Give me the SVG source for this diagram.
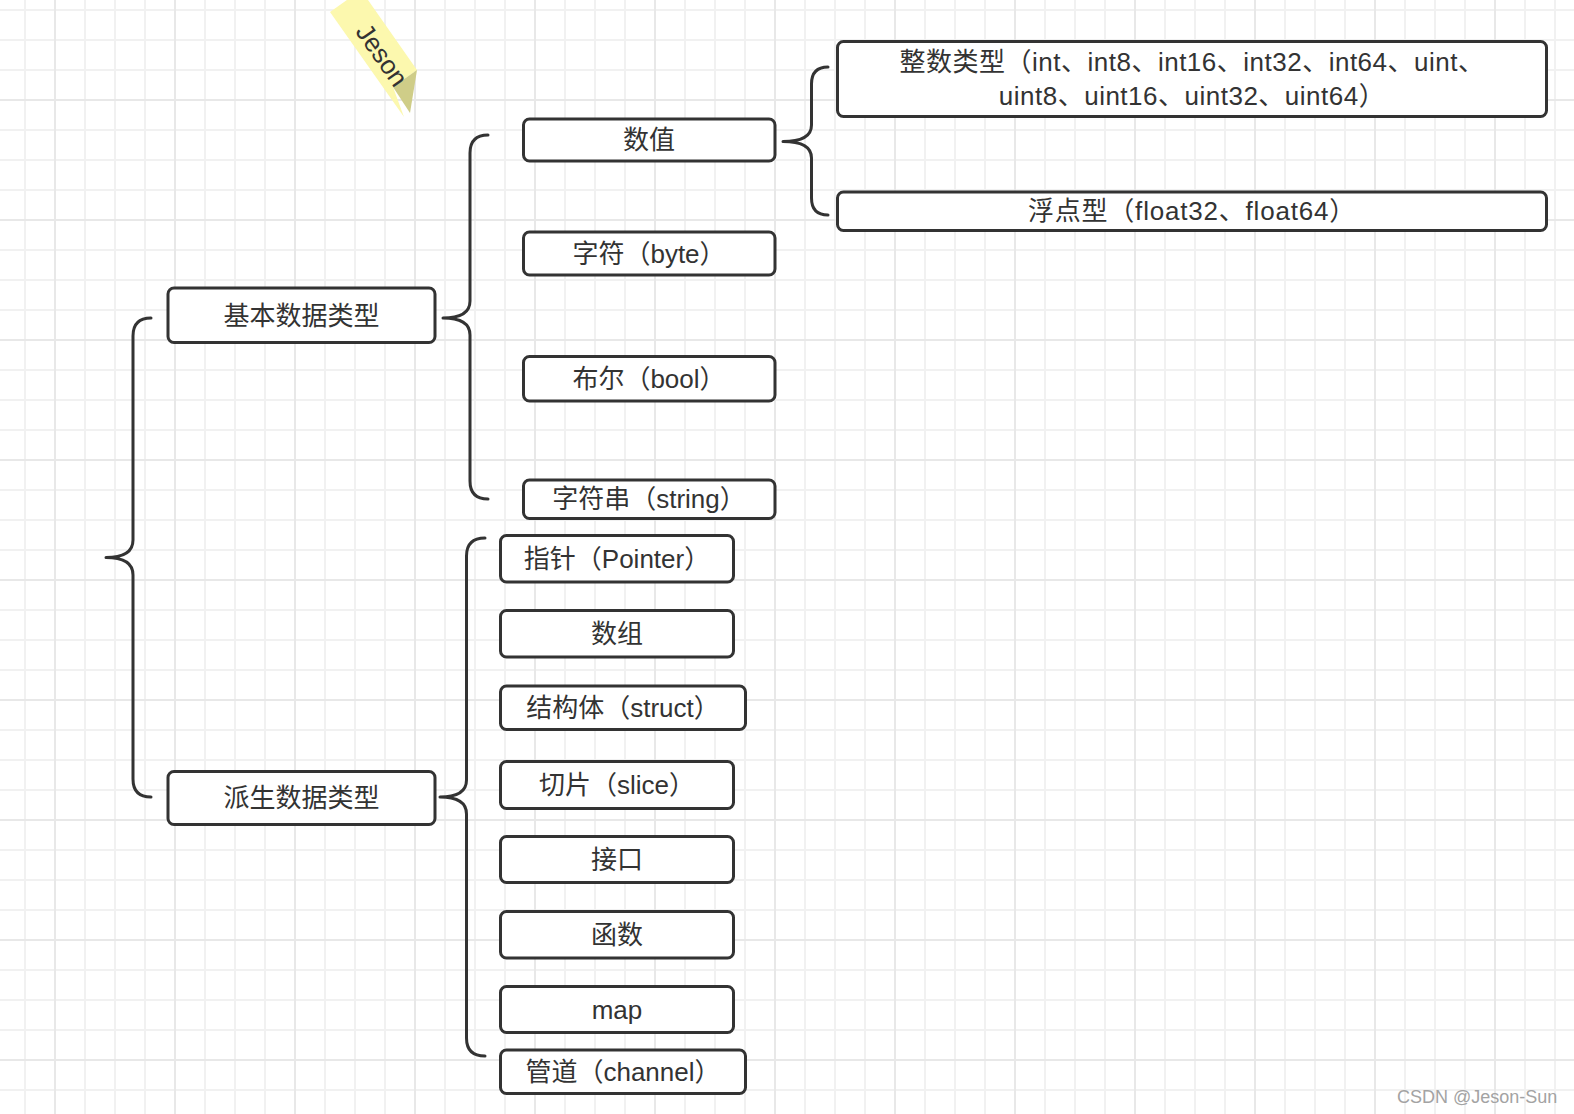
<svg xmlns="http://www.w3.org/2000/svg" width="1574" height="1114" viewBox="0 0 1574 1114">
<style>
.box{fill:#fff;stroke:#333;stroke-width:3}
.t{font-family:"Liberation Sans","Noto Sans CJK SC",sans-serif;font-size:26px;fill:#333;text-anchor:middle}
.ls{letter-spacing:0.5px}
.br{fill:none;stroke:#333;stroke-width:3;stroke-linecap:round;stroke-linejoin:round}
</style>
<defs>
<pattern id="gmin" patternUnits="userSpaceOnUse" x="10" y="-5" width="30" height="30"><path d="M15 0V30M0 15H30" stroke="#f1f1f1" stroke-width="2"/></pattern>
<pattern id="gmaj" patternUnits="userSpaceOnUse" x="-5" y="40" width="120" height="120"><path d="M60 0V120M0 60H120" stroke="#e8e8e8" stroke-width="2"/></pattern>
</defs>
<rect width="1574" height="1114" fill="#fff"/>
<rect width="1574" height="1114" fill="url(#gmin)"/>
<rect width="1574" height="1114" fill="url(#gmaj)"/>

<g id="note">
<polygon points="330,12 361,-10 417,70 393,87 404,117" fill="#fcf8ae"/>
<polygon points="393,87 417,70 410,113" fill="#cfcd88"/>
<text x="382" y="55" transform="rotate(54.8 382 55)" font-family="Liberation Sans, sans-serif" font-size="26" fill="#333" text-anchor="middle" dominant-baseline="central">Jeson</text>
</g>

<g id="connectors">
<path class="br" d="M151,318 Q133,318 133,336 L133,540 Q133,557.5 106,557.5 Q133,557.5 133,575 L133,779 Q133,797 151,797"/>
<path class="br" d="M488,135 Q470,135 470,153 L470,301 Q470,318 443,318 Q470,318 470,335 L470,481 Q470,499 488,499"/>
<path class="br" d="M485,538 Q466.5,538 466.5,556 L466.5,780 Q466.5,797 440,797 Q466.5,797 466.5,814 L466.5,1038 Q466.5,1056 485,1056"/>
<path class="br" d="M828,67 Q811.5,67 811.5,84 L811.5,125 Q811.5,141.5 783,141.5 Q811.5,141.5 811.5,158 L811.5,198 Q811.5,215 828,215"/>
</g>

<g id="n-int"><rect class="box" x="837.5" y="41.5" width="709" height="75" rx="6"/>
<text class="t ls" x="1192" y="71">整数类型（int、int8、int16、int32、int64、uint、</text>
<text class="t ls" x="1192" y="104.5">uint8、uint16、uint32、uint64）</text></g>
<g id="n-float"><rect class="box" x="837.5" y="192" width="709" height="38.5" rx="6"/>
<text class="t" x="1192" y="220" style="letter-spacing:0.8px">浮点型（float32、float64）</text></g>

<g id="n-num"><rect class="box" x="523.5" y="119" width="251.5" height="42" rx="6"/>
<text class="t" x="649" y="149">数值</text></g>
<g id="n-byte"><rect class="box" x="523.5" y="232" width="251.5" height="43" rx="6"/>
<text class="t" x="649" y="262.5">字符（byte）</text></g>
<g id="n-bool"><rect class="box" x="523.5" y="356.5" width="251.5" height="44.5" rx="6"/>
<text class="t" x="649" y="387.5">布尔（bool）</text></g>
<g id="n-string"><rect class="box" x="523.5" y="480" width="251.5" height="38.5" rx="6"/>
<text class="t" x="649" y="508">字符串（string）</text></g>

<g id="n-basic"><rect class="box" x="168" y="288" width="267" height="54.5" rx="6"/>
<text class="t" x="301.5" y="324.5">基本数据类型</text></g>
<g id="n-derived"><rect class="box" x="168" y="771.5" width="267" height="53" rx="6"/>
<text class="t" x="301.5" y="807">派生数据类型</text></g>

<g id="n-pointer"><rect class="box" x="500.5" y="535.5" width="233" height="46.5" rx="6"/>
<text class="t" x="617" y="567.5">指针（Pointer）</text></g>
<g id="n-array"><rect class="box" x="500.5" y="610.5" width="233" height="46.5" rx="6"/>
<text class="t" x="617" y="642.5">数组</text></g>
<g id="n-struct"><rect class="box" x="500.5" y="686" width="245" height="43.5" rx="6"/>
<text class="t" x="623" y="716.5">结构体（struct）</text></g>
<g id="n-slice"><rect class="box" x="500.5" y="761.5" width="233" height="47" rx="6"/>
<text class="t" x="617" y="794">切片（slice）</text></g>
<g id="n-iface"><rect class="box" x="500.5" y="836.5" width="233" height="46" rx="6"/>
<text class="t" x="617" y="868.5">接口</text></g>
<g id="n-func"><rect class="box" x="500.5" y="911.5" width="233" height="46.5" rx="6"/>
<text class="t" x="617" y="943.5">函数</text></g>
<g id="n-map"><rect class="box" x="500.5" y="986.5" width="233" height="46" rx="6"/>
<text class="t" x="617" y="1018.5">map</text></g>
<g id="n-chan"><rect class="box" x="500.5" y="1050" width="245" height="43.5" rx="6"/>
<text class="t" x="623" y="1080.5">管道（channel）</text></g>

<text x="1397" y="1103" font-family="Liberation Sans, sans-serif" font-size="18" fill="#a3a3a3">CSDN @Jeson-Sun</text>
</svg>
